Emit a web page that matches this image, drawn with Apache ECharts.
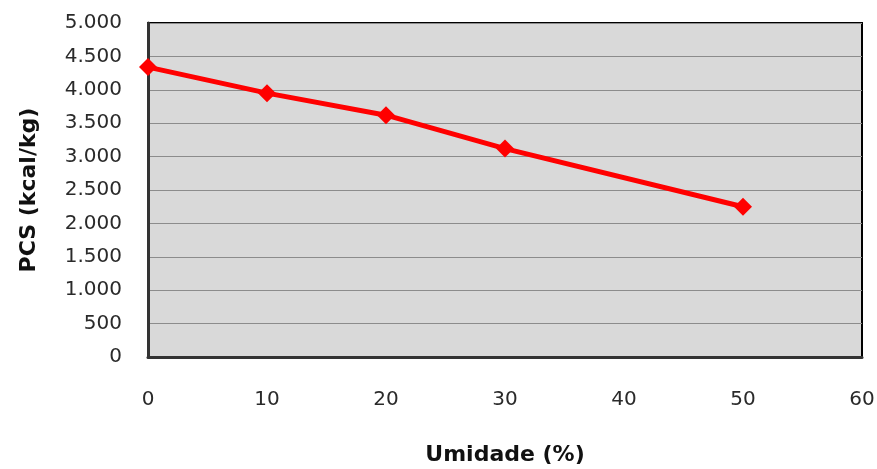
<!DOCTYPE html>
<html>
<head>
<meta charset="utf-8">
<script src="https://cdn.jsdelivr.net/npm/echarts@6/dist/echarts.min.js"></script>
<style>html,body{margin:0;padding:0;background:#fff}#c{width:877px;height:469px}</style>
</head>
<body>
<div id="c"></div>
<script>
const umidade = [0, 10, 20, 30, 50];
const pcs = [4340, 3950, 3620, 3120, 2250];
const xTitle = 'Umidade (%)';
const yTitle = 'PCS (kcal/kg)';

const chart = echarts.init(document.getElementById('c'), null, {renderer: 'canvas'});
const fmt = v => {
  const s = String(Math.round(v));
  return s.replace(/\B(?=(\d{3})+(?!\d))/g, '.');
};
chart.setOption({
  animation: false,
  grid: {left: 148, right: 15, top: 23, bottom: 112, outerBoundsMode: 'none', containLabel: false, show: true, backgroundColor: '#d9d9d9', borderColor: '#000', borderWidth: 2},
  xAxis: {
    type: 'value', min: 0, max: 60, interval: 10,
    name: xTitle, nameLocation: 'middle', nameGap: 87,
    nameTextStyle: {fontFamily: 'DejaVu Sans', fontWeight: 'bold', fontSize: 22, color: '#111'},
    axisLine: {show: true, onZero: false, lineStyle: {color: '#333', width: 3}},
    axisTick: {show: false},
    splitLine: {show: false},
    axisLabel: {margin: 33, fontFamily: 'DejaVu Sans', fontSize: 20, color: '#2a2a2a'}
  },
  yAxis: {
    type: 'value', min: 0, max: 5000, interval: 500,
    name: yTitle, nameLocation: 'middle', nameGap: 108, nameRotate: 90,
    nameTextStyle: {fontFamily: 'DejaVu Sans', fontWeight: 'bold', fontSize: 22, color: '#111'},
    axisLine: {show: true, lineStyle: {color: '#333', width: 3}},
    axisTick: {show: false},
    splitLine: {show: true, lineStyle: {color: '#8c8c8c', width: 1}},
    axisLabel: {margin: 26, fontFamily: 'DejaVu Sans', fontSize: 20, color: '#2a2a2a', formatter: fmt}
  },
  series: [{
    type: 'line',
    data: umidade.map((x, i) => [x, pcs[i]]),
    lineStyle: {color: '#ff0000', width: 5},
    itemStyle: {color: '#ff0000'},
    symbol: 'diamond', symbolSize: 18,
    showSymbol: true
  }]
});
</script>
</body>
</html>
